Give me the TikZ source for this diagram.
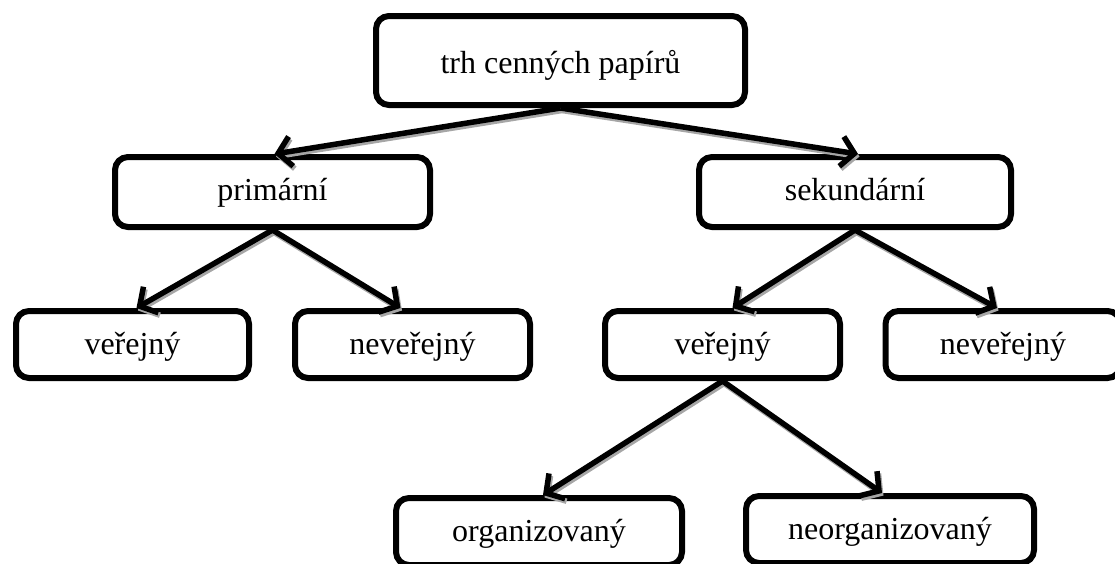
\documentclass[tikz,border=0pt]{standalone}
\usepackage{fontspec}
\setmainfont{Liberation Serif}
\usetikzlibrary{arrows.meta}
\begin{document}
\begin{tikzpicture}[x=1pt,y=-1pt,
  box/.style={draw=black, fill=white, line width=6pt, rounded corners=13pt,
    minimum width=#1, minimum height=67pt, inner sep=0pt,
    text height=26pt, text depth=6pt,
    font=\fontsize{32}{38}\selectfont},
  conn/.style={line width=5.5pt, -{Straight Barb[length=13pt,width=30pt]},
    preaction={draw=black!35, line width=5.5pt, transform canvas={shift={(1.5pt,-2.5pt)}}}},
]
\useasboundingbox (0,0) rectangle (1115,563);
\clip (0,0) rectangle (1115,563);

\node[box=369pt, minimum height=89pt, text height=31pt, text depth=6pt] (top) at (560.5,60.5) {trh cenných papírů};
\node[box=315pt, minimum height=70pt, text height=23pt, text depth=7pt] (prim) at (272.5,192) {primární};
\node[box=312pt, minimum height=70pt, text height=23pt, text depth=7pt] (sek) at (855,192) {sekundární};
\node[box=233pt] (v1) at (132.5,344.5) {veřejný};
\node[box=235pt] (n1) at (412.5,344.5) {neveřejný};
\node[box=235pt] (v2) at (722.5,344.5) {veřejný};
\node[box=235pt] (n2) at (1003,344.5) {neveřejný};
\node[box=286pt] (org) at (539,531.5) {organizovaný};
\node[box=288pt] (neo) at (890,529.5) {neorganizovaný};

\draw[conn] (top.south) -- ([xshift=2pt]prim.north);
\draw[conn] (top.south) -- ([xshift=3pt]sek.north);
\draw[conn] (prim.south) -- ([xshift=4pt]v1.north);
\draw[conn] (prim.south) -- ([xshift=-12pt]n1.north);
\draw[conn] (sek.south) -- ([xshift=10pt]v2.north);
\draw[conn] (sek.south) -- ([xshift=-6pt]n2.north);
\draw[conn] (v2.south) -- ([xshift=4pt]org.north);
\draw[conn] (v2.south) -- ([xshift=-8pt]neo.north);
\end{tikzpicture}
\end{document}
